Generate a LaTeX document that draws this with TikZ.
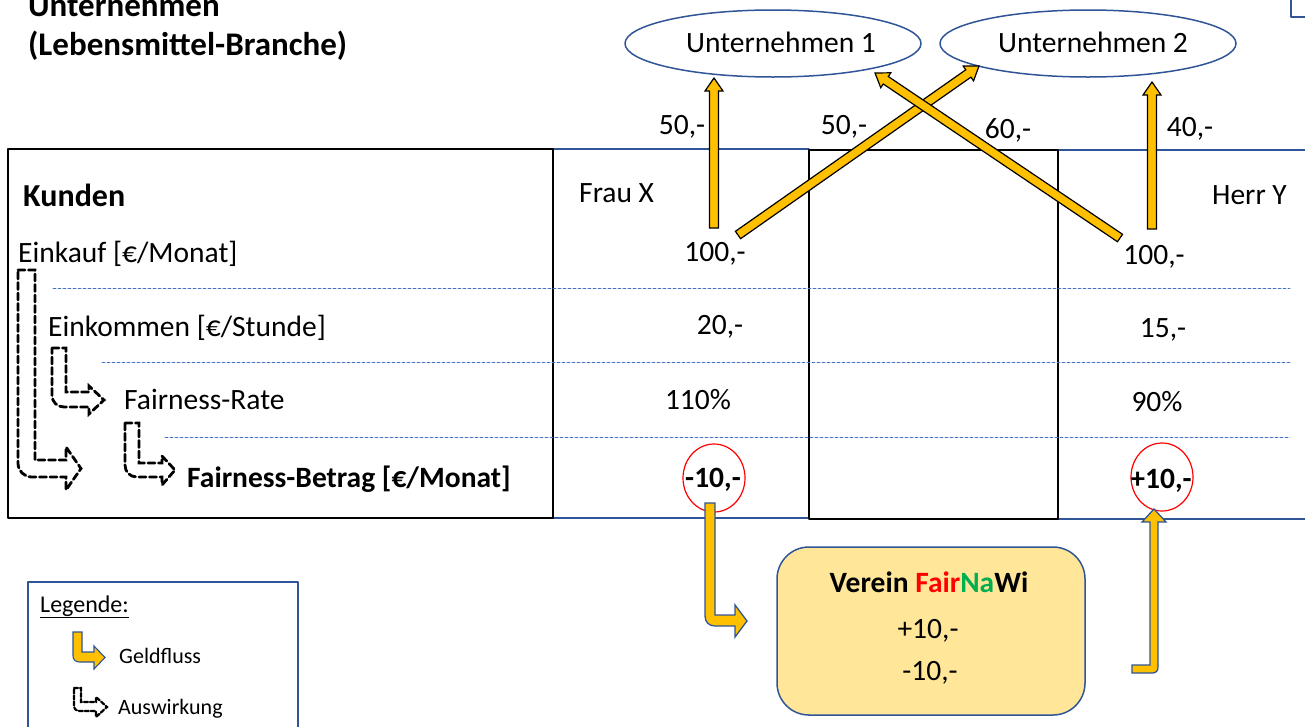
\documentclass[tikz,border=0pt]{standalone}
\usepackage{fontspec}
\setmainfont{Carlito}
\usetikzlibrary{shapes.geometric,calc}

\definecolor{gelb}{HTML}{FFC000}
\definecolor{rahmenblau}{HTML}{2F5597}
\definecolor{punktblau}{HTML}{4472C4}
\definecolor{vereingelb}{HTML}{FFE699}
\definecolor{fairgruen}{HTML}{00B050}

\tikzset{
  txt/.style={inner sep=0pt, text height=18.5pt, text depth=0pt, font=\fontsize{29.5}{35}\selectfont},
  fett/.style={txt, font=\fontsize{29.5}{35}\selectfont\bfseries},
  titel/.style={inner sep=0pt, text height=21pt, text depth=0pt, font=\fontsize{33}{39}\selectfont\bfseries},
  klein/.style={inner sep=0pt, text height=14pt, text depth=0pt, font=\fontsize{22}{26}\selectfont},
  firma/.style={txt, ellipse, draw=rahmenblau, line width=1.5pt, minimum width=296pt, minimum height=67pt},
  kreis/.style={ellipse, draw=red, line width=1.2pt, minimum width=62pt, minimum height=68pt, inner sep=0pt},
  tabelle/.style={draw=black, line width=1.5pt},
  spalte/.style={draw=rahmenblau, line width=1.5pt},
  trenn/.style={draw=punktblau, line width=0.9pt, dash pattern=on 3pt off 2pt},
  geld/.style={fill=gelb, draw=black, line width=1.2pt, line join=miter},
  geldknick/.style={fill=gelb, draw=rahmenblau, line width=1.3pt, line join=miter},
  wirkung/.style={fill=white, draw=black, line width=2.8pt, dash pattern=on 7pt off 3.5pt, line join=miter},
  verein/.style={draw=rahmenblau, fill=vereingelb, line width=1.5pt, rounded corners=32pt, minimum width=308pt, minimum height=168pt},
}

% Blockpfeil von #1 nach #2
\newcommand{\geldpfeil}[2]{%
  \coordinate (kopf) at ($(#2)!13pt!(#1)$);
  \draw[geld] ($(#1)!4.5pt!90:(#2)$) -- ($(kopf)!4.5pt!-90:(#1)$) -- ($(kopf)!9pt!-90:(#1)$) -- (#2)
    -- ($(kopf)!9pt!90:(#1)$) -- ($(kopf)!4.5pt!90:(#1)$) -- ($(#1)!4.5pt!-90:(#2)$) -- cycle;
}

\begin{document}
\begin{tikzpicture}[x=1pt, y=-1pt, line join=round, line cap=round]
	\useasboundingbox (0,0) rectangle (1305,726);
	% Titel
	\node[titel, anchor=west] (titel1) at (28,6) {Unternehmen};
	\node[titel, anchor=west] (titel2) at (28,45) {(Lebensmittel-Branche)};
	\draw[spalte] (1291,0) -- (1291,17) -- (1305,17);
	% Unternehmen
	\node[firma] (u1) at (773,43.5) {\hspace{16pt}Unternehmen 1};
	\node[firma] (u2) at (1088,43.5) {\hspace{10pt}Unternehmen 2};
	% Tabelle
	\draw[spalte] (553,149) -- (809,149) (1058,150) -- (1305,150);
	\draw[spalte] (553,518) -- (809,518) (1058,519) -- (1305,519);
	\draw[tabelle] (8,149) rectangle (553,518);
	\draw[tabelle] (809,150) rectangle (1058,519);
	\draw[trenn] (53,288) -- (1290,288);
	\draw[trenn] (102,362) -- (1290,362);
	\draw[trenn] (165,437) -- (1290,437);
	% Zeilen
	\node[fett, anchor=west, font=\fontsize{32}{38}\selectfont\bfseries] (kunden) at (23,197) {Kunden};
	\node[txt, anchor=west] (einkauf) at (18,253) {Einkauf [€/Monat]};
	\node[txt, anchor=west] (einkommen) at (48,327) {Einkommen [€/Stunde]};
	\node[txt, anchor=west] (rate) at (124,400) {Fairness-Rate};
	\node[fett, anchor=west] (betrag) at (187,478) {Fairness-Betrag [€/Monat]};
	% Frau X
	\node[txt, anchor=west] (frau) at (579,193) {Frau X};
	\node[txt] (fkauf) at (715,252) {100,-};
	\node[txt] (fein) at (720,325) {20,-};
	\node[txt] (frate) at (698,400) {110\%};
	\node[fett] (fbetrag) at (713,478) {-10,-};
	\node[kreis] (fkreis) at (714,478) {};
	% Herr Y
	\node[txt, anchor=east] (herr) at (1287,195) {Herr Y};
	\node[txt] (hkauf) at (1154,255) {100,-};
	\node[txt] (hein) at (1163,328) {15,-};
	\node[txt] (hrate) at (1157,402) {90\%};
	\node[fett] (hbetrag) at (1161,479) {+10,-};
	\node[kreis] (hkreis) at (1162,477) {};
	% Betraege an die Unternehmen
	\node[txt] (b1) at (682,125) {50,-};
	\node[txt] (b2) at (844,125) {50,-};
	\node[txt] (b3) at (1008,129) {60,-};
	\node[txt] (b4) at (1190,127) {40,-};
	\coordinate (f1) at (714,228);
	\coordinate (f2) at (738,235);
	\coordinate (h1) at (1152,229);
	\coordinate (h2) at (1120,238);
	\coordinate (z1) at (714,78);
	\coordinate (z2) at (979,66);
	\coordinate (z3) at (1152,82);
	\coordinate (z4) at (875,73);
	\geldpfeil{f1}{z1}
	\geldpfeil{f2}{z2}
	\geldpfeil{h1}{z3}
	\geldpfeil{h2}{z4}
	% Auswirkungen
	\draw[wirkung] (18,270) -- (35,270) -- (35,460) -- (66,460) -- (66,447) -- (81,468.5) -- (66,490) -- (66,477)
		-- (32,477) .. controls (24,477) and (18,471) .. (18,463) -- cycle;
	\draw[wirkung] (52,348) -- (66,348) -- (66,392) -- (89,392) -- (89,386) -- (104,400) -- (89,414) -- (89,407)
		-- (64,407) .. controls (57,407) and (52,402) .. (52,395) -- cycle;
	\draw[wirkung] (125,423) -- (139,423) -- (139,463) -- (162,463) -- (162,456) -- (175,470) -- (162,485) -- (162,477)
		-- (137,477) .. controls (130,477) and (125,472) .. (125,465) -- cycle;
	% Verein
	\node[verein] (verein) at (931,631) {};
	\node[fett] (vname) at (929,583) {Verein \textcolor{red}{Fair}\textcolor{fairgruen}{Na}Wi};
	\node[txt] (vplus) at (928,629) {+10,-};
	\node[txt] (vminus) at (930,671) {-10,-};
	\draw[geldknick] (705,503) -- (715,503) -- (715,615) -- (735,615) -- (735,605) -- (747,621) -- (735,637) -- (735,626)
		-- (715,626) .. controls (709,626) and (705,622) .. (705,616) -- cycle;
	\draw[geldknick] (1132,665) -- (1150,665) -- (1150,522) -- (1142,522) -- (1154,509) -- (1166,522) -- (1158,522)
		-- (1158,667) .. controls (1158,671) and (1156,673) .. (1152,673) -- (1132,673) -- cycle;
	% Legende
	\draw[spalte] (28,740) -- (28,582) -- (298,582) -- (298,740);
	\node[klein, anchor=west, font=\fontsize{24}{28}\selectfont] (legende) at (40,605) {\underline{Legende:}};
	\draw[geldknick, line width=1.1pt] (73,632) -- (82,632) -- (82,652) -- (94,652) -- (94,646) -- (105,657.5) -- (94,669) -- (94,662)
		-- (80,662) .. controls (76,662) and (73,660) .. (73,656) -- cycle;
	\node[klein, anchor=west] (geldfluss) at (119,656) {Geldfluss};
	\draw[wirkung, line width=2.2pt, dash pattern=on 4pt off 2pt] (74,688) -- (81,688) -- (81,702) -- (96,702) -- (96,697) -- (107,707) -- (96,717) -- (96,711)
		-- (80,711) .. controls (76,711) and (74,709) .. (74,705) -- cycle;
	\node[klein, anchor=west] (auswirkung) at (118,707) {Auswirkung};
\end{tikzpicture}
\end{document}
